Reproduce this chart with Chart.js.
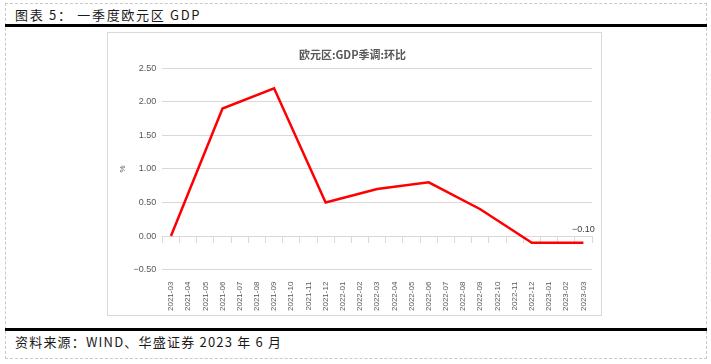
<!DOCTYPE html>
<html>
<head>
<meta charset="utf-8">
<script src="https://cdn.jsdelivr.net/npm/chart.js@4"></script>
<style>
  html, body { margin: 0; padding: 0; background: #fff; }
  body { width: 711px; height: 364px; position: relative; overflow: hidden; }
  .frame { position: absolute; left: 5px; top: 3px; width: 702px; height: 356px;
           border: 1px dashed #c8c8c8; box-sizing: border-box; }
  .head { position: absolute; left: 15px; top: 5px; font: 13px "Noto Sans CJK SC", sans-serif;
          color: #1a1a1a; letter-spacing: 1.7px; white-space: nowrap; }
  .rule { position: absolute; left: 5px; width: 702px; height: 3px; background: #000; }
  .box { position: absolute; left: 107px; top: 32px; width: 495px; height: 284px;
         border: 1px solid #d9d9d9; box-sizing: border-box; }
  .box canvas { position: absolute; left: 0; top: 0; }
  .foot { position: absolute; left: 15px; top: 332px; font: 13px "Noto Sans CJK SC", sans-serif;
          color: #1a1a1a; letter-spacing: 1.2px; white-space: nowrap; }
</style>
</head>
<body>
<div class="frame"></div>
<div class="head">图表 5： 一季度欧元区 GDP</div>
<div class="rule" style="top:24px"></div>
<div class="box"><canvas id="gdpChart" width="493" height="282"></canvas></div>
<div class="rule" style="top:328px"></div>
<div class="foot">资料来源：WIND、华盛证券 2023 年 6 月</div>

<script>
// Euro area GDP, seasonally adjusted, q/q (%)
const months = [
    '2021-03', '2021-04', '2021-05', '2021-06', '2021-07', '2021-08', '2021-09',
    '2021-10', '2021-11', '2021-12', '2022-01', '2022-02', '2022-03', '2022-04',
    '2022-05', '2022-06', '2022-07', '2022-08', '2022-09', '2022-10', '2022-11',
    '2022-12', '2023-01', '2023-02', '2023-03'
];
// only quarter-end months carry a value
const gdpQoq = [
    0.0, null, null, 1.9, null, null, 2.2,
    null, null, 0.5, null, null, 0.7, null,
    null, 0.8, null, null, 0.4, null, null,
    -0.1, null, null, -0.1
];
const yMin = -0.5;
const yMax = 2.5;
const yStep = 0.5;

const gray = '#595959';
const gridColor = '#d9d9d9';

function fmt(v) {
    const s = Math.abs(v).toFixed(2);
    return v < 0 ? '\u2212' + s : s;
}

// label on the last point
const lastLabel = {
    id: 'lastLabel',
    afterDatasetsDraw(chart) {
        const meta = chart.getDatasetMeta(0);
        const i = gdpQoq.length - 1;
        const pt = meta.data[i];
        const ctx = chart.ctx;
        ctx.save();
        ctx.font = '9px "Liberation Sans", Arial, sans-serif';
        ctx.fillStyle = '#404040';
        ctx.textAlign = 'center';
        ctx.textBaseline = 'bottom';
        ctx.fillText(fmt(gdpQoq[i]), pt.x, pt.y - 9);
        ctx.restore();
    }
};

const ctx = document.getElementById('gdpChart').getContext('2d');
new Chart(ctx, {
    type: 'line',
    data: {
        labels: months,
        datasets: [{
            label: '欧元区:GDP季调:环比',
            data: gdpQoq,
            borderColor: '#ff0000',
            borderWidth: 2.5,
            pointRadius: 0,
            spanGaps: true,
            tension: 0
        }]
    },
    options: {
        responsive: false,
        animation: false,
        layout: { padding: { left: 5, right: 9, top: 0, bottom: 0 } },
        plugins: {
            legend: { display: false },
            tooltip: { enabled: false },
            title: {
                display: true,
                text: '欧元区:GDP季调:环比',
                color: gray,
                font: { family: '"Noto Sans CJK SC", sans-serif', size: 11, weight: 'bold' },
                padding: { top: 15, bottom: 7 }
            }
        },
        scales: {
            x: {
                type: 'category',
                offset: true,
                grid: { display: false },
                border: { display: false },
                ticks: {
                    autoSkip: false,
                    minRotation: 90,
                    maxRotation: 90,
                    padding: 4,
                    color: gray,
                    font: { family: '"Liberation Sans", Arial, sans-serif', size: 8 }
                }
            },
            // axis line with tick marks along the zero value
            x2: {
                type: 'category',
                axis: 'x',
                position: { y: 0 },
                offset: true,
                grid: {
                    offset: true,
                    drawOnChartArea: false,
                    drawTicks: true,
                    tickLength: 6,
                    color: gridColor
                },
                border: { display: true, color: gridColor },
                ticks: { display: false }
            },
            y: {
                min: yMin,
                max: yMax,
                grid: { color: gridColor, drawTicks: false },
                border: { display: false },
                ticks: {
                    stepSize: yStep,
                    padding: 6,
                    color: gray,
                    font: { family: '"Liberation Sans", Arial, sans-serif', size: 9 },
                    callback: (v) => fmt(v)
                },
                title: {
                    display: true,
                    text: '%',
                    color: gray,
                    padding: { top: 5, bottom: 0 },
                    font: { family: '"Liberation Sans", Arial, sans-serif', size: 8 }
                }
            }
        }
    },
    plugins: [lastLabel]
});
</script>
</body>
</html>
